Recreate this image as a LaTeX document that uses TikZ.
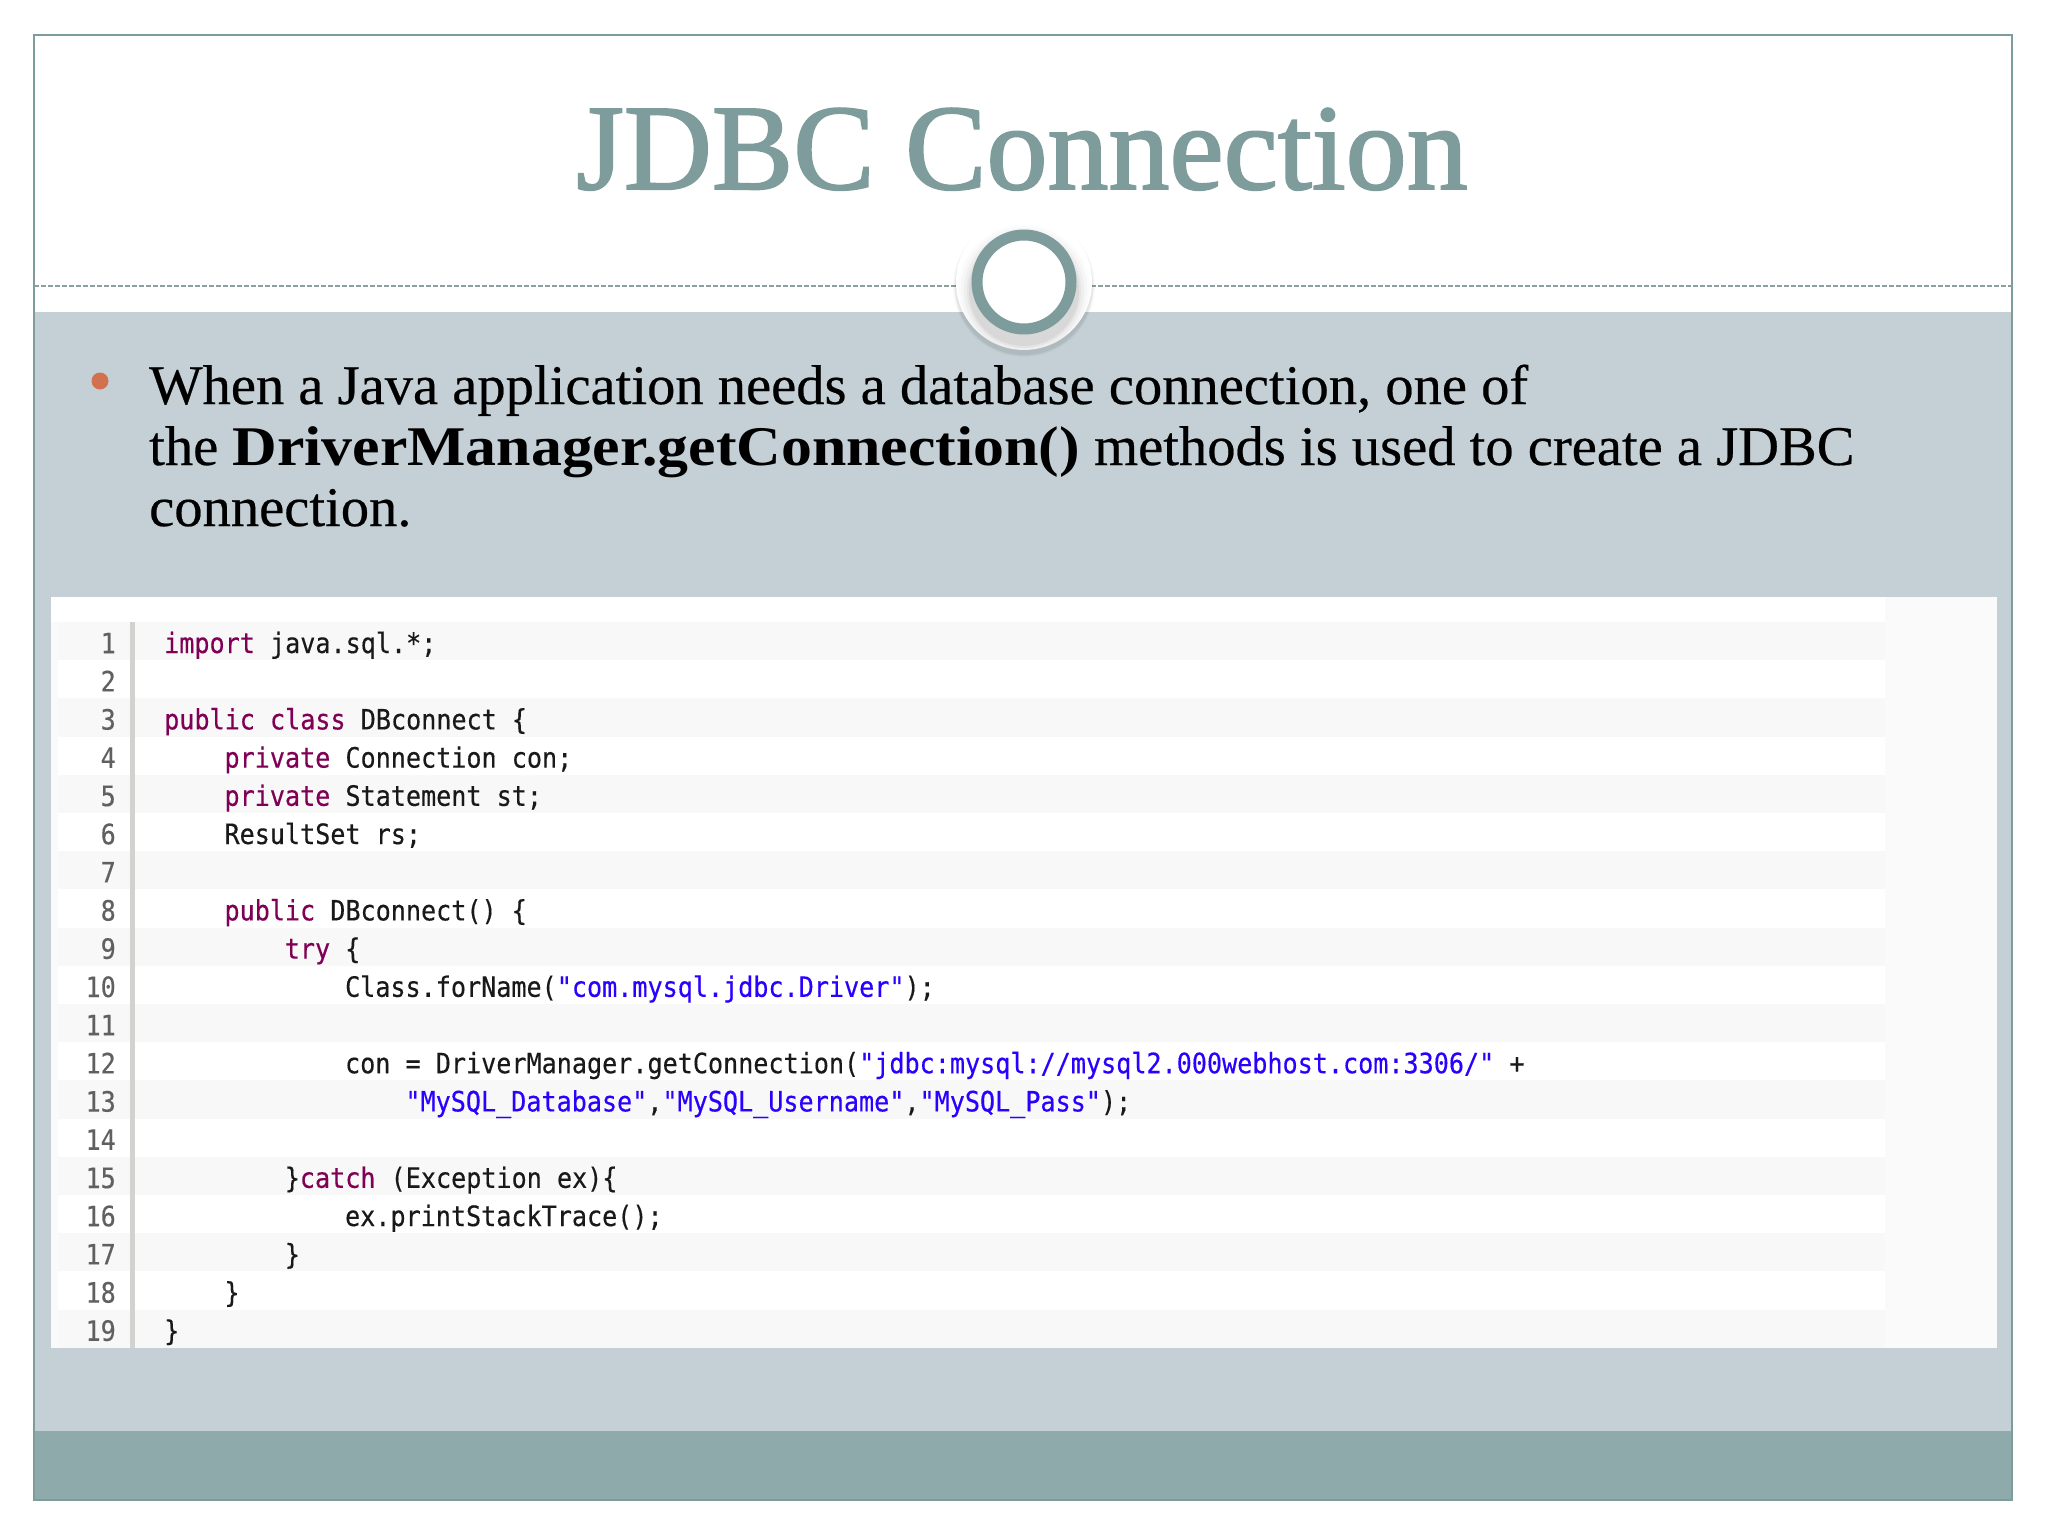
\documentclass[tikz,border=0pt]{standalone}
\usepackage{fontspec}
\setmainfont[FakeStretch=1.01,FakeBold=0.4]{Liberation Serif}
\newfontfamily\boldbody[FakeStretch=1.104]{Liberation Serif}
\newfontfamily\titlefont[FakeBold=1.6]{Liberation Serif}
\newfontfamily\codefont[FakeStretch=0.897,FakeBold=0.35]{DejaVu Sans Mono}
\definecolor{teal1}{HTML}{7F9C9C}
\definecolor{dashc}{HTML}{8A9F9F}
\definecolor{band}{HTML}{C4D0D5}
\definecolor{foot}{HTML}{8EAAAA}
\definecolor{ringc}{HTML}{7F9C9C}
\definecolor{panel}{HTML}{FBFAFB}
\definecolor{rowg}{HTML}{F8F8F8}
\definecolor{gutter}{HTML}{D2D2D0}
\definecolor{kwc}{HTML}{7F0055}
\definecolor{strc}{HTML}{2A00FF}
\definecolor{numc}{HTML}{606060}
\definecolor{bull}{HTML}{D3714F}
\newcommand{\kw}[1]{\textcolor{kwc}{#1}}
\newcommand{\strg}[1]{\textcolor{strc}{#1}}
\tikzset{
  x=1pt,y=-1pt,
  codeline/.style={anchor=base west,inner sep=0pt,text=black!90,font={\codefont\fontsize{28}{34}\selectfont}},
  numline/.style={anchor=base east,inner sep=0pt,text=numc,font={\codefont\fontsize{28}{34}\selectfont}},
  bodyline/.style={anchor=base west,inner sep=0pt,text=black,font={\fontsize{56}{61}\selectfont}},
}
\begin{document}
\begin{tikzpicture}
\useasboundingbox (0,0) rectangle (2048,1536);
\fill[white] (0,0) rectangle (2048,1536);
% slide
\fill[band] (34,312) rectangle (2012,1431);
\fill[foot] (34,1431) rectangle (2012,1500);
\draw[teal1,line width=2pt] (34,35) rectangle (2012,1500);
\draw[dashc,line width=1.5pt,dash pattern=on 5pt off 2pt] (34,286) -- (2012,286);
% disc
\foreach \r/\o in {71/.02,70/.03,69/.05}{\fill[black,opacity=\o] (1024,286) circle[radius=\r];}
\fill[white] (1024,282) circle[radius=68];
\begin{scope}
\clip (1024,282) circle[radius=68];
\foreach \r/\o in {66/.015,63/.02,60/.03,57/.04,55/.05}{\fill[black,opacity=\o] (1024,291) circle[radius=\r];}
\end{scope}
\draw[ringc,line width=11pt,fill=white] (1024,282) circle[radius=47];
% title
\node[anchor=base,inner sep=0pt,text=teal1,font={\titlefont\fontsize{122}{130}\selectfont}] (title) at (1022,189) {JDBC Connection};
% bullet
\fill[bull] (100,381) circle[radius=8.5];
\node[bodyline] (b1) at (149,404) {When a Java application needs a database connection, one of};
\node[bodyline] (b2) at (149,465) {the {\boldbody\bfseries DriverManager.getConnection()} methods is used to create a JDBC};
\node[bodyline] (b3) at (149,526) {connection.};
% panel
\fill[panel] (51,597) rectangle (1997,1348);
\fill[white] (51,597) rectangle (1885,622);
\foreach \n in {1,...,19}{
  \pgfmathsetmacro\ya{622+38.2*(\n-1)}
  \pgfmathsetmacro\yb{622+38.2*\n}
  \pgfmathparse{int(mod(\n,2))}
  \ifnum\pgfmathresult=1
    \fill[rowg] (58,\ya) rectangle (1885,\yb);
  \else
    \fill[white] (58,\ya) rectangle (1885,\yb);
  \fi
  \node[numline] (n\n) at (116,\yb-7) {\n};
}
\fill[gutter] (130,622) rectangle (135,1348);
\def\xz{164}\def\xa{224.3}\def\xb{284.6}\def\xc{344.9}\def\xd{405.2}
\node[codeline] (l1) at (\xz,653) {\kw{import} java.sql.*;};
\node[codeline] (l3) at (\xz,729.4) {\kw{public} \kw{class} DBconnect \{};
\node[codeline] (l4) at (\xa,767.6) {\kw{private} Connection con;};
\node[codeline] (l5) at (\xa,805.8) {\kw{private} Statement st;};
\node[codeline] (l6) at (\xa,844) {ResultSet rs;};
\node[codeline] (l8) at (\xa,920.4) {\kw{public} DBconnect() \{};
\node[codeline] (l9) at (\xb,958.6) {\kw{try} \{};
\node[codeline] (l10) at (\xc,996.8) {Class.forName(\strg{"com.mysql.jdbc.Driver"});};
\node[codeline] (l12) at (\xc,1073.2) {con = DriverManager.getConnection(\strg{"jdbc:mysql://mysql2.000webhost.com:3306/"} +};
\node[codeline] (l13) at (\xd,1111.4) {\strg{"MySQL\_Database"},\strg{"MySQL\_Username"},\strg{"MySQL\_Pass"});};
\node[codeline] (l15) at (\xb,1187.8) {\}\kw{catch} (Exception ex)\{};
\node[codeline] (l16) at (\xc,1226) {ex.printStackTrace();};
\node[codeline] (l17) at (\xb,1264.2) {\}};
\node[codeline] (l18) at (\xa,1302.4) {\}};
\node[codeline] (l19) at (\xz,1340.6) {\}};
\end{tikzpicture}
\end{document}
